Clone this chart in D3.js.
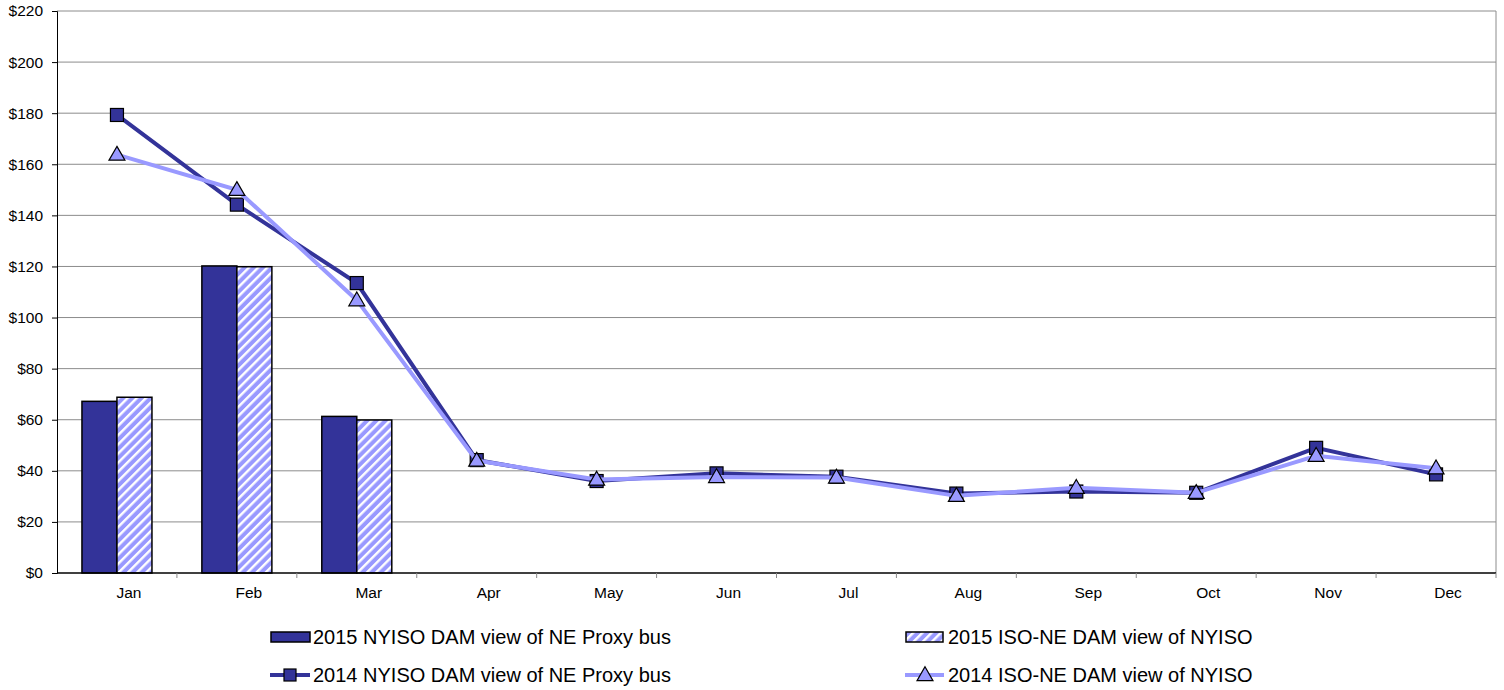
<!DOCTYPE html>
<html>
<head>
<meta charset="utf-8">
<script src="https://cdn.jsdelivr.net/npm/d3@7"></script>
<style>
  body { margin: 0; background: #fff; }
  text { font-family: "Liberation Sans", Arial, sans-serif; fill: #000; }
</style>
</head>
<body>
<div id="grafica"></div>
<script>
// Datos
const months = ["Jan","Feb","Mar","Apr","May","Jun","Jul","Aug","Sep","Oct","Nov","Dec"]
const nyiso2015 = [67.2, 120.2, 61.3]
const isone2015 = [68.8, 119.9, 59.9]
const nyiso2014 = [179.3, 144.2, 113.5, 44.2, 36.0, 39.0, 37.7, 31.1, 31.9, 31.4, 49.0, 38.6]
const isone2014 = [163.8, 150.0, 106.8, 44.0, 36.6, 37.6, 37.4, 30.2, 33.4, 31.4, 45.9, 41.0]
const yTicks = [0,20,40,60,80,100,120,140,160,180,200,220]

const dark = "#333399"
const light = "#9999ff"

const width = 1504, height = 690
const padLeft = 57, padRight = 1496, padTop = 11, padBottom = 573

const svg = d3.select("#grafica").append("svg")
  .attr("width", width).attr("height", height)

const defs = svg.append("defs")
const pat = defs.append("pattern")
  .attr("id", "hatch")
  .attr("patternUnits", "userSpaceOnUse")
  .attr("width", 6.5).attr("height", 6.5)
  .attr("patternTransform", "rotate(45)")
pat.append("rect").attr("width", 6.5).attr("height", 6.5).attr("fill", light)
pat.append("rect").attr("x", 0).attr("width", 2.4).attr("height", 6.5).attr("fill", "#fff")

const xScale = d3.scaleBand().domain(months).range([padLeft, padRight])
const yScale = d3.scaleLinear().domain([0, 220]).range([padBottom, padTop])
const cx = m => xScale(m) + xScale.bandwidth() / 2

// gridlines
svg.append("g").selectAll("line").data(yTicks.filter(d => d > 0)).enter().append("line")
  .attr("x1", padLeft).attr("x2", padRight)
  .attr("y1", d => yScale(d)).attr("y2", d => yScale(d))
  .attr("stroke", "#8c8c8c").attr("stroke-width", 1)

// borde derecho
svg.append("line").attr("x1", padRight).attr("x2", padRight).attr("y1", padTop).attr("y2", padBottom)
  .attr("stroke", "#8c8c8c")

// barras
const barW = 35
const bars = svg.append("g")
bars.selectAll("rect.a").data(nyiso2015).enter().append("rect")
  .attr("x", (d, i) => cx(months[i]) - barW)
  .attr("y", d => yScale(d))
  .attr("width", barW).attr("height", d => padBottom - yScale(d))
  .attr("fill", dark).attr("stroke", "#000").attr("stroke-width", 1.5)
bars.selectAll("rect.b").data(isone2015).enter().append("rect")
  .attr("x", (d, i) => cx(months[i]))
  .attr("y", d => yScale(d))
  .attr("width", barW).attr("height", d => padBottom - yScale(d))
  .attr("fill", "url(#hatch)").attr("stroke", "#000").attr("stroke-width", 1.5)

// ejes
const yAxis = d3.axisLeft(yScale).tickValues(yTicks).tickSize(5).tickFormat(d => "$" + d)
const gy = svg.append("g").attr("transform", "translate(" + padLeft + ",0)").call(yAxis)
gy.select(".domain").attr("stroke", "#000")
gy.selectAll("text").attr("font-size", 15.5).attr("x", -14)

const gx = svg.append("g").attr("transform", "translate(0," + padBottom + ")")
gx.append("line").attr("x1", padLeft).attr("x2", padRight).attr("stroke", "#000").attr("stroke-width", 1.5)
gx.selectAll("line.t").data(months).enter().append("line")
  .attr("x1", (d, i) => padLeft + xScale.step() * (i + 1))
  .attr("x2", (d, i) => padLeft + xScale.step() * (i + 1))
  .attr("y1", 0).attr("y2", 5).attr("stroke", "#888")
gx.selectAll("text").data(months).enter().append("text")
  .attr("x", d => cx(d) + 12).attr("y", 25)
  .attr("text-anchor", "middle").attr("font-size", 15.5).text(d => d)

// lineas
const line = d3.line().x((d, i) => cx(months[i])).y(d => yScale(d))

svg.append("path").datum(nyiso2014).attr("d", line)
  .attr("fill", "none").attr("stroke", dark).attr("stroke-width", 4)
svg.append("g").selectAll("rect").data(nyiso2014).enter().append("rect")
  .attr("x", (d, i) => cx(months[i]) - 6.5).attr("y", d => yScale(d) - 6.5)
  .attr("width", 13).attr("height", 13)
  .attr("fill", dark).attr("stroke", "#000").attr("stroke-width", 1.2)

svg.append("path").datum(isone2014).attr("d", line)
  .attr("fill", "none").attr("stroke", light).attr("stroke-width", 4)
const tri = d3.symbol().type(d3.symbolTriangle).size(110)
svg.append("g").selectAll("path").data(isone2014).enter().append("path")
  .attr("d", tri)
  .attr("transform", (d, i) => "translate(" + cx(months[i]) + "," + (yScale(d) + 1) + ")")
  .attr("fill", light).attr("stroke", "#000").attr("stroke-width", 1.2)

// leyenda
const leg = svg.append("g")
function legText(x, y, t) {
  leg.append("text").attr("x", x).attr("y", y).attr("font-size", 20).text(t)
}
// fila 1
leg.append("rect").attr("x", 271).attr("y", 632).attr("width", 39).attr("height", 10)
  .attr("fill", dark).attr("stroke", "#000").attr("stroke-width", 1.5)
legText(313, 644, "2015 NYISO DAM view of NE Proxy bus")
leg.append("rect").attr("x", 906).attr("y", 632).attr("width", 37).attr("height", 10)
  .attr("fill", "url(#hatch)").attr("stroke", "#000").attr("stroke-width", 1.5)
legText(948, 644, "2015 ISO-NE DAM view of NYISO")
// fila 2
leg.append("line").attr("x1", 270).attr("x2", 310).attr("y1", 675).attr("y2", 675)
  .attr("stroke", dark).attr("stroke-width", 4)
leg.append("rect").attr("x", 284).attr("y", 669).attr("width", 12).attr("height", 12)
  .attr("fill", dark).attr("stroke", "#000").attr("stroke-width", 1.2)
legText(313, 682, "2014 NYISO DAM view of NE Proxy bus")
leg.append("line").attr("x1", 905).attr("x2", 944).attr("y1", 675).attr("y2", 675)
  .attr("stroke", light).attr("stroke-width", 4)
leg.append("path").attr("d", tri).attr("transform", "translate(925,676)")
  .attr("fill", light).attr("stroke", "#000").attr("stroke-width", 1.2)
legText(948, 682, "2014 ISO-NE DAM view of NYISO")
</script>
</body>
</html>
